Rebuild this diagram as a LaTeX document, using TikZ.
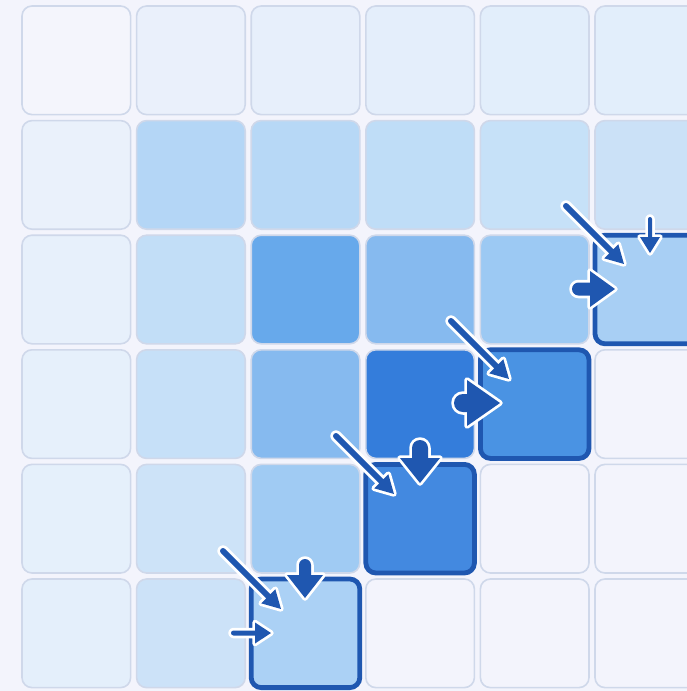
\documentclass[tikz,border=0pt]{standalone}
\usepackage{tikz}
\definecolor{bgc}{HTML}{F3F4FC}
\definecolor{cellline}{HTML}{CFD8EA}
\definecolor{arrowblue}{HTML}{1F57B0}
\tikzset{
  cellbox/.style={draw=cellline, line width=1.6pt, rounded corners=10pt,
    minimum width=108.6pt, minimum height=108.6pt, inner sep=0pt, outer sep=0pt},
  hlbox/.style={draw=arrowblue, line width=4.8pt, rounded corners=10pt,
    minimum width=108.6pt, minimum height=108.6pt, inner sep=0pt, outer sep=0pt},
}
% cell: col, row, hex, style
\newcommand\mkcell[4]{%
  \definecolor{tmpc}{HTML}{#3}%
  \node[#4, fill=tmpc] (c-#1-#2) at ({22+114.6*#1+54.3},{6+114.6*#2+54.3}) {};%
}
% arrow: x, y (centre of round tail), angle, length, shaft width, head width, head length
\newcommand\flowarrow[7]{%
  \begin{scope}[shift={(#1,#2)}, rotate=#3]
    \def\arrpath{(0,#5/2) -- ({#4-#7},#5/2) -- ({#4-#7},#6/2) -- (#4,0) -- ({#4-#7},-#6/2) -- ({#4-#7},-#5/2) -- (0,-#5/2) arc (270:90:#5/2) -- cycle}
    \path[fill=white, draw=white, line width=5.5pt, line join=round] \arrpath;
    \path[fill=arrowblue] \arrpath;
  \end{scope}%
}
\begin{document}
\begin{tikzpicture}[x=1pt, y=-1pt]
\clip (0,0) rectangle (687,691);
\useasboundingbox (0,0) rectangle (687,691);
\fill[bgc] (0,0) rectangle (687,691);
% row 0
\mkcell{0}{0}{F4F5FC}{cellbox}
\mkcell{1}{0}{EAF0FB}{cellbox}
\mkcell{2}{0}{E7EFFB}{cellbox}
\mkcell{3}{0}{E4EEFB}{cellbox}
\mkcell{4}{0}{E2EEFB}{cellbox}
\mkcell{5}{0}{E2EEFB}{cellbox}
% row 1
\mkcell{0}{1}{EAF1FB}{cellbox}
\mkcell{1}{1}{B4D6F6}{cellbox}
\mkcell{2}{1}{B7D8F6}{cellbox}
\mkcell{3}{1}{BFDDF7}{cellbox}
\mkcell{4}{1}{C6E1F8}{cellbox}
\mkcell{5}{1}{CBE1F7}{cellbox}
% row 2
\mkcell{0}{2}{E7F0FB}{cellbox}
\mkcell{1}{2}{C2DEF7}{cellbox}
\mkcell{2}{2}{67A9EB}{cellbox}
\mkcell{3}{2}{86BAEF}{cellbox}
\mkcell{4}{2}{9CC9F3}{cellbox}
% row 3
\mkcell{0}{3}{E6F0FB}{cellbox}
\mkcell{1}{3}{C6E0F8}{cellbox}
\mkcell{2}{3}{86BAEF}{cellbox}
\mkcell{3}{3}{347DDB}{cellbox}
\mkcell{5}{3}{F3F4FC}{cellbox}
% row 4
\mkcell{0}{4}{E5F0FB}{cellbox}
\mkcell{1}{4}{CDE3F8}{cellbox}
\mkcell{2}{4}{A0CBF3}{cellbox}
\mkcell{4}{4}{F3F4FC}{cellbox}
\mkcell{5}{4}{F3F4FC}{cellbox}
% row 5
\mkcell{0}{5}{E4EFFB}{cellbox}
\mkcell{1}{5}{CCE2F8}{cellbox}
\mkcell{3}{5}{F3F4FC}{cellbox}
\mkcell{4}{5}{F3F4FC}{cellbox}
\mkcell{5}{5}{F3F4FC}{cellbox}
% highlighted path cells
\mkcell{5}{2}{A8CFF4}{hlbox}
\mkcell{4}{3}{4A93E3}{hlbox}
\mkcell{3}{4}{4389E0}{hlbox}
\mkcell{2}{5}{ABD1F5}{hlbox}
% arrows into (5,2)
\flowarrow{566}{206}{-45}{82}{6}{20}{18}
\flowarrow{650}{219}{-90}{34}{4}{20}{16}
\flowarrow{578.5}{289}{0}{36.5}{13}{36}{25}
% arrows into (4,3)
\flowarrow{451}{321}{-45}{82}{6}{20}{18}
\flowarrow{463}{403}{0}{37}{18}{46}{33}
% arrows into (3,4)
\flowarrow{336}{436}{-45}{82}{6}{20}{18}
\flowarrow{420}{448}{-90}{35}{16}{40}{25}
% arrows into (2,5)
\flowarrow{223}{551}{-45}{82}{6}{20}{18}
\flowarrow{305}{565}{-90}{33}{12}{36}{23}
\flowarrow{233.5}{633}{0}{37.5}{5}{21}{16}
\end{tikzpicture}
\end{document}
